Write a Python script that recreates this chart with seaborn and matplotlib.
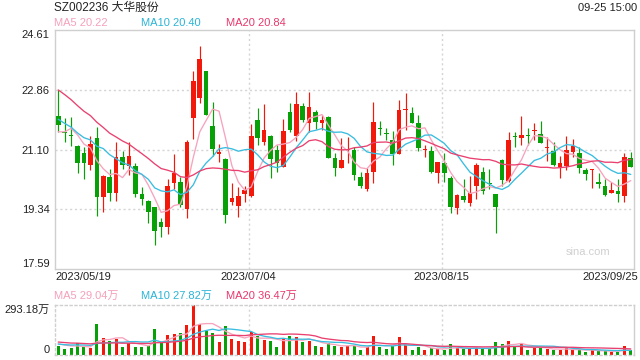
import numpy as np
import pandas as pd
import matplotlib
matplotlib.use("Agg")
import matplotlib.pyplot as plt
import matplotlib.transforms as mtransforms
import seaborn as sns

# ---------------- data ----------------
title = "SZ002236 大华股份"
stamp = "09-25 15:00"
date_labels = ["2023/05/19", "2023/07/04", "2023/08/15", "2023/09/25"]
date_idx = [0, 30, 60, 89]
price_ticks = [17.59, 19.34, 21.10, 22.86, 24.61]
price_tick_labels = ["17.59", "19.34", "21.10", "22.86", "24.61"]
vol_ticks = [0, 293.18]
vol_tick_labels = ["0", "293.18万"]
price_ma_labels = ["MA5 20.22", "MA10 20.40", "MA20 20.84"]
vol_ma_labels = ["MA5 29.04万", "MA10 27.82万", "MA20 36.47万"]

opens = [22.08, 21.62, 21.52, 21.20, 21.01, 20.65, 21.44, 19.70, 20.30, 19.81,
         20.87, 20.62, 20.62, 19.79, 19.60, 19.40, 18.98, 18.83, 20.13, 20.15,
         19.34, 22.03, 22.62, 23.40, 21.79, 20.98, 20.83, 19.57, 19.44, 19.79,
         19.73, 21.97, 21.33, 21.50, 21.09, 20.60, 22.20, 21.50, 22.38, 21.87,
         22.21, 21.89, 22.05, 20.84, 20.57, 21.08, 21.10, 20.30, 19.93, 20.45,
         21.72, 21.58, 21.38, 20.97, 22.26, 22.16, 21.87, 21.09, 21.07, 20.42,
         20.71, 20.25, 19.37, 19.72, 19.54, 20.03, 20.44, 20.13, 19.79, 20.79,
         20.18, 21.50, 21.45, 21.53, 21.65, 21.56, 21.14, 21.07, 20.58, 20.62,
         21.04, 20.99, 20.50, 20.50, 20.16, 20.03, 19.83, 19.87, 19.72, 20.84]
highs = [22.85, 22.02, 22.05, 21.22, 21.18, 21.50, 21.75, 20.35, 20.52, 21.33,
         21.07, 21.33, 20.69, 19.99, 19.62, 19.42, 19.08, 20.22, 20.97, 20.30,
         21.38, 23.42, 24.14, 23.42, 22.50, 21.26, 20.85, 20.13, 20.01, 20.03,
         21.85, 22.31, 22.44, 21.53, 21.24, 21.99, 22.48, 22.79, 22.48, 22.79,
         22.26, 22.11, 22.09, 20.99, 21.43, 21.48, 21.18, 20.45, 20.55, 22.50,
         21.94, 21.72, 21.64, 22.55, 22.75, 22.34, 22.11, 21.23, 21.20, 20.73,
         21.00, 20.32, 19.78, 20.22, 20.32, 20.69, 20.58, 20.52, 19.80, 20.81,
         21.62, 21.62, 22.08, 21.74, 21.87, 21.95, 21.48, 21.33, 20.91, 21.50,
         21.40, 21.16, 20.55, 20.54, 20.42, 20.22, 20.16, 20.22, 21.01, 21.03]
lows = [21.62, 21.33, 21.20, 20.42, 20.24, 20.50, 19.15, 19.25, 19.60, 19.60,
        20.52, 20.35, 19.70, 19.47, 18.95, 18.30, 18.52, 18.62, 19.93, 19.42,
        19.08, 21.40, 22.46, 22.11, 20.91, 20.74, 18.93, 19.47, 19.13, 19.57,
        19.71, 21.23, 21.23, 20.25, 20.45, 20.58, 21.62, 21.36, 21.91, 21.62,
        21.69, 21.67, 20.84, 20.33, 20.57, 20.69, 20.20, 19.96, 19.89, 20.13,
        21.53, 21.38, 20.65, 20.97, 21.67, 21.87, 21.07, 20.89, 20.42, 20.11,
        20.16, 19.24, 19.20, 19.57, 19.44, 19.64, 19.79, 19.93, 18.66, 20.03,
        20.16, 21.18, 21.23, 21.23, 21.38, 21.28, 20.77, 20.62, 20.25, 20.50,
        20.89, 20.42, 20.20, 19.96, 19.96, 19.73, 19.81, 19.57, 19.57, 20.58]
closes = [21.83, 21.57, 21.50, 20.69, 20.71, 21.26, 19.70, 20.32, 19.83, 20.87,
          20.65, 20.91, 19.79, 19.66, 19.27, 18.72, 18.83, 20.03, 20.42, 19.47,
          21.32, 23.12, 23.76, 22.11, 21.12, 21.02, 19.19, 19.67, 19.72, 19.91,
          21.50, 21.45, 21.67, 20.83, 20.71, 21.64, 21.67, 22.44, 21.97, 22.34,
          21.91, 21.97, 20.86, 20.55, 20.79, 21.10, 20.35, 20.03, 20.40, 21.91,
          21.70, 21.56, 20.97, 22.26, 22.29, 21.89, 21.13, 21.11, 20.45, 20.73,
          20.42, 19.42, 19.76, 19.62, 19.81, 20.65, 19.89, 20.09, 19.40, 20.20,
          21.38, 21.46, 21.53, 21.50, 21.67, 21.30, 21.16, 20.65, 20.69, 21.10,
          21.20, 20.55, 20.38, 20.52, 20.09, 19.76, 19.91, 19.79, 20.87, 20.60]
# volume in 万 shares
volumes = [53, 35, 41, 72, 49, 41, 182, 100, 82, 94,
           47, 72, 47, 47, 53, 152, 72, 117, 123, 129,
           176, 293.18, 182, 141, 129, 76, 170, 94, 82, 76,
           135, 111, 88, 82, 47, 94, 111, 106, 76, 82,
           53, 47, 70, 53, 47, 53, 53, 29, 47, 111,
           47, 35, 53, 106, 59, 29, 47, 29, 41, 35,
           29, 64, 41, 35, 35, 41, 41, 35, 76, 64,
           82, 53, 64, 29, 41, 41, 35, 29, 29, 41,
           29, 29, 18, 29, 23, 23, 18, 18, 53, 29]
# sessions before the window (estimated from where the MA lines start)
prior_closes = [24.3, 24.5, 24.2, 24.0, 23.8, 23.6, 23.4, 23.2, 23.1, 23.0,
                22.8, 22.6, 22.4, 22.1, 21.9, 21.57, 21.0, 21.64, 22.06]
prior_volumes = [95, 100, 85, 90, 80, 92, 88, 84, 86, 80,
                 70, 60, 65, 58, 62, 66, 70, 72, 64]

# ---------------- style ----------------
sns.set_theme(style="white")
plt.rcParams['font.family'] = ['Liberation Sans', 'Noto Sans CJK SC', 'DejaVu Sans']

RED = "#f2190b"
GREEN = "#07a007"
MA_COLORS = ["#f7a3bd", "#38bde0", "#e9406f"]
MA_TEXT = ["#f5a0ba", "#2bb4d7", "#e8386d"]
GRID = "#d4d4d4"
SPINE = "#cfcfcf"
TXT = "#222222"

n = len(closes)
x = np.arange(n)
o = np.array(opens); h = np.array(highs); l = np.array(lows); c = np.array(closes)
v = np.array(volumes, dtype=float)
up = c >= o
cols = np.where(up, RED, GREEN)

all_c = pd.Series(prior_closes + closes)
all_v = pd.Series(prior_volumes + volumes)
k = len(prior_closes)
df = pd.DataFrame({"x": x})
for w in (5, 10, 20):
    df[f"ma{w}"] = all_c.rolling(w).mean().iloc[k:].to_numpy()
    df[f"vma{w}"] = all_v.rolling(w).mean().iloc[k:].to_numpy()

W, H = 640, 360
fig = plt.figure(figsize=(6.4, 3.6), dpi=100)
def fx(px): return px / W
def fy(py): return 1 - py / H

axp = fig.add_axes([fx(55), fy(269), fx(634) - fx(55), fy(30) - fy(269)])
axv = fig.add_axes([fx(55), fy(355), fx(634) - fx(55), fy(305) - fy(355)])

# ---------------- price panel ----------------
for yv in price_ticks[1:-1]:
    axp.axhline(yv, color=GRID, lw=1, ls=(0, (1.5, 2)), zorder=0)
for di in date_idx[1:-1]:
    axp.axvline(di - 0.4, color=GRID, lw=1, ls=(0, (1.5, 2)), zorder=0)
    axv.axvline(di - 0.4, color=GRID, lw=1, ls=(0, (1.5, 2)), zorder=0)

axp.vlines(x, l, h, colors=cols, lw=0.85, zorder=2)
body = np.maximum(np.abs(c - o), 0.025)
axp.bar(x, body, bottom=np.minimum(o, c), width=0.72, color=cols, lw=0, zorder=3)

for w, col in zip((5, 10, 20), MA_COLORS):
    sns.lineplot(data=df, x="x", y=f"ma{w}", ax=axp, color=col, lw=0.95,
                 legend=False, zorder=4)

axp.set_xlim(-0.5, n - 0.5)
axp.set_ylim(price_ticks[0], price_ticks[-1])
axp.set_yticks(price_ticks)
axp.set_yticklabels(price_tick_labels)
axp.set_xticks([])
axp.set_xlabel(""); axp.set_ylabel("")
axp.tick_params(axis="y", length=0, pad=4, labelsize=8, labelcolor=TXT)
ylabs = axp.get_yticklabels()
ylabs[0].set_va("bottom")
ylabs[-1].set_va("top")
for sp in axp.spines.values():
    sp.set_visible(True); sp.set_color(SPINE); sp.set_linewidth(1)

# date labels
trans = mtransforms.blended_transform_factory(axp.transData, fig.transFigure)
for i, (lab, di) in enumerate(zip(date_labels, date_idx)):
    if i == 0:
        axp.text(-0.5, fy(277), lab, transform=trans, ha="left", va="center",
                 fontsize=8, color=TXT)
    elif i == len(date_labels) - 1:
        axp.text(n - 0.5 + 0.6, fy(277), lab, transform=trans, ha="right",
                 va="center", fontsize=8, color=TXT)
    else:
        axp.text(di - 0.4, fy(277), lab, transform=trans, ha="center",
                 va="center", fontsize=8, color=TXT)

axp.text(0.96, 0.07, "sina.com", transform=axp.transAxes, ha="right",
         va="center", fontsize=8, color="#d0d0d0")

# ---------------- volume panel ----------------
axv.bar(x, v, width=0.47, color=cols, lw=0, zorder=2)
for w, col in zip((5, 10, 20), MA_COLORS):
    sns.lineplot(data=df, x="x", y=f"vma{w}", ax=axv, color=col, lw=0.95,
                 legend=False, zorder=3)
axv.set_xlim(-0.5, n - 0.5)
axv.set_ylim(vol_ticks[0], vol_ticks[-1])
axv.set_yticks(vol_ticks)
axv.set_yticklabels(vol_tick_labels)
axv.set_xticks([])
axv.set_xlabel(""); axv.set_ylabel("")
axv.tick_params(axis="y", length=0, pad=4, labelsize=8, labelcolor=TXT)
vlabs = axv.get_yticklabels()
vlabs[0].set_va("bottom")
vlabs[-1].set_va("top")
for name, sp in axv.spines.items():
    sp.set_visible(True); sp.set_color(SPINE); sp.set_linewidth(1)
    if name != "right":
        sp.set_linestyle((0, (1.5, 2)))

# ---------------- header texts ----------------
fig.text(fx(54), fy(8), title, ha="left", va="center", fontsize=8.5, color=TXT)
fig.text(fx(637), fy(8), stamp, ha="right", va="center", fontsize=8, color=TXT)
for lab, xp, col in zip(price_ma_labels, (54, 141, 226), MA_TEXT):
    fig.text(fx(xp), fy(23), lab, ha="left", va="center", fontsize=8, color=col)
for lab, xp, col in zip(vol_ma_labels, (54, 141, 226), MA_TEXT):
    fig.text(fx(xp), fy(296), lab, ha="left", va="center", fontsize=8, color=col)

fig.savefig("out.png", dpi=100)
